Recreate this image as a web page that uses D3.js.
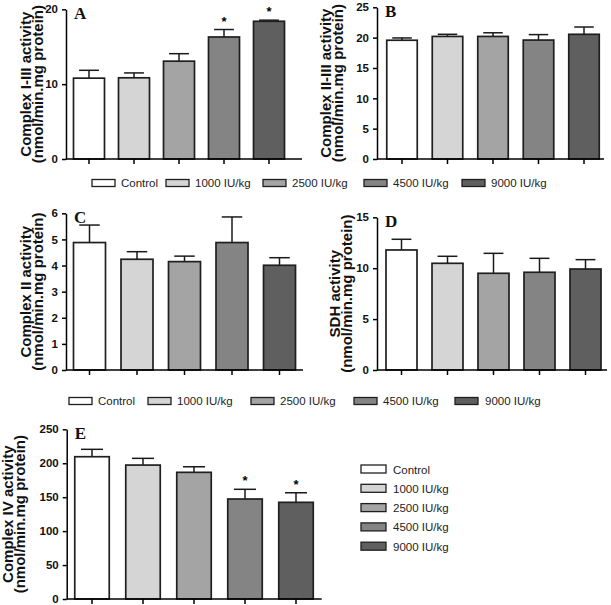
<!DOCTYPE html>
<html>
<head>
<meta charset="utf-8">
<script src="https://cdn.jsdelivr.net/npm/d3@7"></script>
<style>
  body { margin: 0; background: #fff; }
  text { font-family: Arial, "Liberation Sans", Helvetica, sans-serif; }
  text.serif { font-family: "Times New Roman", "Liberation Serif", serif; }
  .tick text { font-weight: bold; font-size: 11.5px; fill: #111; }
  .leg { font-size: 11.5px; fill: #222; }
</style>
</head>
<body>
<svg id="svg" width="611" height="605"></svg>
<script>
// groups and fills
const groups = ['Control', '1000 IU/kg', '2500 IU/kg', '4500 IU/kg', '9000 IU/kg'];
const fills = ['#ffffff', '#d5d5d5', '#a4a4a4', '#848484', '#5f5f5f'];

// values (mean, error)
const meanA = [10.8, 10.85, 13.07, 16.3, 18.4];
const semA = [1.05, 0.65, 1.0, 1.0, 0.15];
const starsA = [false, false, false, true, true];
const ticksA = [0, 10, 20];

const meanB = [19.57, 20.2, 20.2, 19.6, 20.55];
const semB = [0.38, 0.35, 0.6, 0.9, 1.2];
const ticksB = [0, 5, 10, 15, 20, 25];

const meanC = [4.88, 4.24, 4.15, 4.88, 4.01];
const semC = [0.67, 0.29, 0.21, 0.98, 0.29];
const ticksC = [0, 1, 2, 3, 4, 5, 6];

const meanD = [11.79, 10.48, 9.5, 9.6, 9.92];
const semD = [1.05, 0.69, 1.96, 1.37, 0.92];
const ticksD = [0, 5, 10, 15];

const meanE = [209.6, 197.3, 186.6, 147.3, 142.4];
const semE = [10.9, 9.9, 8.2, 14.3, 14.1];
const starsE = [false, false, false, true, true];
const ticksE = [0, 50, 100, 150, 200, 250];

const unit = '(nmol/min.mg protein)';

// panel layout
const panels = [
  { id: 'A', mean: meanA, sem: semA, stars: starsA, ticks: ticksA, title: 'Complex I-III activity',
    ax: 66, xEnd: 302, c1: 89, step: 45, bw: 31, top: 9.3, bot: 159, lab: [31, 42.5] },
  { id: 'B', mean: meanB, sem: semB, stars: null, ticks: ticksB, title: 'Complex II-III activity',
    ax: 377, xEnd: 604, c1: 402, step: 45.5, bw: 30.5, top: 7.3, bot: 159, lab: [331, 342.5] },
  { id: 'C', mean: meanC, sem: semC, stars: null, ticks: ticksC, title: 'Complex II activity',
    ax: 66, xEnd: 303, c1: 89.5, step: 47.5, bw: 32, top: 213.3, bot: 370, lab: [31, 42.5] },
  { id: 'D', mean: meanD, sem: semD, stars: null, ticks: ticksD, title: 'SDH activity',
    ax: 377, xEnd: 607, c1: 401.5, step: 46, bw: 31, top: 217.3, bot: 370, lab: [340, 351.5] },
  { id: 'E', mean: meanE, sem: semE, stars: starsE, ticks: ticksE, title: 'Complex IV activity',
    ax: 66.7, xEnd: 321.7, c1: 92, step: 51, bw: 34.5, top: 429.3, bot: 599, lab: [13, 24.5] }
];

const svg = d3.select('#svg');

panels.forEach((p) => {
  const g = svg.append('g');
  const pad = 1 - p.bw / p.step;
  const start = p.c1 - p.step / 2;
  const x = d3.scaleBand().domain(groups).range([start, start + 5 * p.step])
    .paddingInner(pad).paddingOuter(pad / 2);
  const y = d3.scaleLinear().domain([0, p.ticks[p.ticks.length - 1]]).range([p.bot, p.top]);

  const rows = groups.map((k, i) => ({ k: k, m: p.mean[i], e: p.sem[i], s: p.stars ? p.stars[i] : false, f: fills[i] }));

  // error bars (upper only)
  const eb = g.append('g').attr('stroke', '#1a1a1a').attr('stroke-width', 1.5);
  eb.selectAll('line.v').data(rows).enter().append('line')
    .attr('x1', (d) => x(d.k) + x.bandwidth() / 2).attr('x2', (d) => x(d.k) + x.bandwidth() / 2)
    .attr('y1', (d) => y(d.m)).attr('y2', (d) => y(d.m + d.e));
  eb.selectAll('line.c').data(rows).enter().append('line')
    .attr('x1', (d) => x(d.k) + x.bandwidth() * 0.18).attr('x2', (d) => x(d.k) + x.bandwidth() * 0.82)
    .attr('y1', (d) => y(d.m + d.e)).attr('y2', (d) => y(d.m + d.e));

  g.selectAll('rect').data(rows).enter().append('rect')
    .attr('x', (d) => x(d.k)).attr('width', x.bandwidth())
    .attr('y', (d) => y(d.m)).attr('height', (d) => p.bot - y(d.m))
    .attr('fill', (d) => d.f).attr('stroke', '#1f1f1f').attr('stroke-width', 1.7);

  g.selectAll('text.star').data(rows.filter((d) => d.s)).enter().append('text')
    .attr('class', 'star')
    .attr('x', (d) => x(d.k) + x.bandwidth() / 2).attr('y', (d) => y(d.m + d.e) - 4)
    .attr('text-anchor', 'middle').attr('font-size', 13).attr('font-weight', 'bold').text('*');

  // axes
  const yAxis = g.append('g').attr('transform', 'translate(' + p.ax + ',0)')
    .call(d3.axisLeft(y).tickValues(p.ticks).tickFormat(d3.format('d'))
      .tickSize(4).tickSizeOuter(0).tickPadding(4));
  yAxis.select('.domain').attr('stroke-width', 1.5);
  yAxis.selectAll('.tick line').attr('stroke-width', 1.5);

  const xAxis = g.append('g').attr('transform', 'translate(0,' + p.bot + ')')
    .call(d3.axisBottom(x).tickSize(5).tickFormat(''));
  xAxis.select('.domain').remove();
  xAxis.selectAll('.tick line').attr('stroke-width', 1.5);
  g.append('line').attr('x1', p.ax).attr('x2', p.xEnd).attr('y1', p.bot).attr('y2', p.bot)
    .attr('stroke', '#000').attr('stroke-width', 1.5);

  // y label
  const cy = (p.top + p.bot) / 2;
  [p.title, unit].forEach((t, i) => {
    g.append('text').attr('transform', 'translate(' + p.lab[i] + ',' + cy + ') rotate(-90)')
      .attr('text-anchor', 'middle').attr('font-weight', 'bold').attr('font-size', 15)
      .attr('fill', '#111').text(t);
  });

  // panel letter
  g.append('text').attr('class', 'serif').attr('x', p.ax + 8).attr('y', p.top + 10)
    .attr('font-weight', 'bold').attr('font-size', 17).attr('fill', '#111').text(p.id);
});

// legends
const legRow = (boxX, textX, y0) => {
  const lg = svg.append('g');
  groups.forEach((k, i) => {
    lg.append('rect').attr('x', boxX[i]).attr('y', y0).attr('width', 23).attr('height', 7)
      .attr('fill', fills[i]).attr('stroke', '#1f1f1f').attr('stroke-width', 1.3);
    lg.append('text').attr('class', 'leg').attr('x', textX[i]).attr('y', y0 + 7.5).text(k);
  });
};
legRow([92, 166, 263, 364, 462], [121, 195, 292, 393, 491], 179.5);
legRow([69, 148, 251, 354, 455], [98, 177, 280, 383, 485], 397.5);

const legE = svg.append('g');
groups.forEach((k, i) => {
  const yy = 465 + i * 19.3;
  legE.append('rect').attr('x', 361).attr('y', yy).attr('width', 25).attr('height', 8)
    .attr('fill', fills[i]).attr('stroke', '#1f1f1f').attr('stroke-width', 1.3);
  legE.append('text').attr('class', 'leg').attr('x', 393).attr('y', yy + 8.5).text(k);
});
</script>
</body>
</html>
